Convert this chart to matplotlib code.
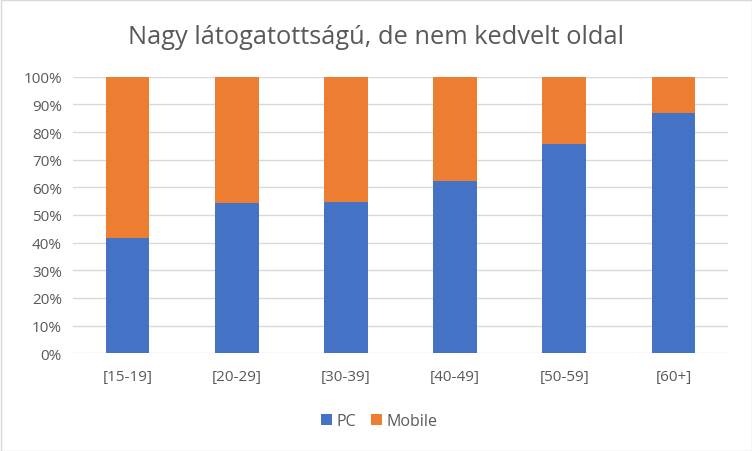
import matplotlib
matplotlib.use("Agg")
import matplotlib.pyplot as plt
from matplotlib.patches import Rectangle

categories = ["[15-19]", "[20-29]", "[30-39]", "[40-49]", "[50-59]", "[60+]"]
pc = [41.7, 54.3, 54.7, 62.3, 75.6, 87.0]
mobile = [100 - v for v in pc]
yticks = list(range(0, 101, 10))

plt.rcParams['font.family'] = ['Open Sans', 'DejaVu Sans']

fig = plt.figure(figsize=(7.52, 4.52), dpi=100)
W, H = 752, 452
ax = fig.add_axes([73 / W, 97.7 / H, 655 / W, 276.6 / H])

x = list(range(len(categories)))
ax.bar(x, pc, width=0.4, color="#4472C4", label="PC", zorder=3)
ax.bar(x, mobile, width=0.4, bottom=pc, color="#ED7D31", label="Mobile", zorder=3)

ax.set_xlim(-0.5, len(categories) - 0.5)
ax.set_ylim(0, 100)
ax.set_yticks(yticks)
ax.set_yticklabels([f"{t}%" for t in yticks])
ax.set_xticks(x)
ax.set_xticklabels(categories)
ax.grid(axis="y", color="#D9D9D9", linewidth=1, zorder=0)
for s in ax.spines.values():
    s.set_visible(False)
ax.tick_params(axis="both", length=0, colors="#595959", labelsize=11)
ax.tick_params(axis="x", pad=11)
ax.tick_params(axis="y", pad=8)

fig.suptitle("Nagy látogatottságú, de nem kedvelt oldal", y=1 - 38 / H, va="center",
             fontsize=18.3, color="#595959")

fig.legend(loc="center", bbox_to_anchor=(379 / W, 1 - 422 / H), ncol=2, frameon=False,
           fontsize=11.5, labelcolor="#595959", handlelength=0.7, handleheight=0.7,
           handletextpad=0.3, columnspacing=0.9)

fig.patches.append(Rectangle((0.5 / W, 0.5 / H), 1 - 1 / W, 1 - 1 / H, transform=fig.transFigure,
                             fill=False, edgecolor="#D9D9D9", linewidth=1))

fig.savefig("out.png", dpi=100)
